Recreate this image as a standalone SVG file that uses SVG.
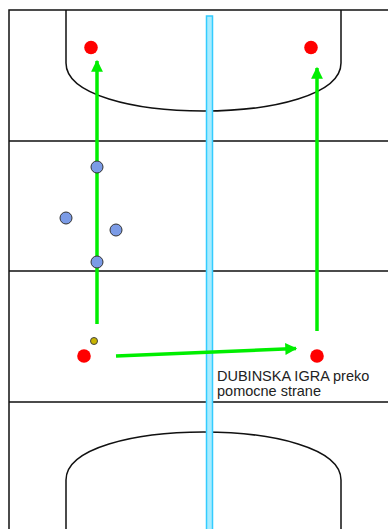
<svg xmlns="http://www.w3.org/2000/svg" width="388" height="529" viewBox="0 0 388 529">
<style>
.line{fill:none;stroke:#111;stroke-width:1.5}
.red{fill:#ff0000}
.blue{fill:#7b9be6;stroke:#333;stroke-width:1}
.arrow{fill:none;stroke:#00ee00;stroke-width:3.5}
.lbl{font-family:"Liberation Sans",Arial,sans-serif;font-size:14.5px;fill:#222}
</style>
<defs>
<marker id="ah" viewBox="0 0 10 10" refX="9" refY="5" markerWidth="3.6" markerHeight="3.4" orient="auto" markerUnits="strokeWidth">
<path d="M0,0 L10,5 L0,10 Z" fill="#00ee00"/>
</marker>
</defs>
<rect width="388" height="529" fill="#fff"/>
<g id="field">
<path class="line" d="M389,10 H9 V529"/>
<path class="line" d="M9,141 H389 M9,271 H389 M9,402 H389"/>
<path class="line" d="M66,10 V63 C66,127 341,127 341,63 V10"/>
<path class="line" d="M66,529 V480 C66,416 341,416 341,480 V529"/>
<rect x="206.5" y="16" width="6" height="514" fill="#a8ecff" stroke="#33ccff" stroke-width="1.5"/>
</g>
<g id="connectors">
<line class="arrow" x1="97" y1="324" x2="97" y2="61" marker-end="url(#ah)"/>
<line class="arrow" x1="317" y1="331" x2="317" y2="68" marker-end="url(#ah)"/>
<line class="arrow" x1="116" y1="356" x2="296" y2="348.5" marker-end="url(#ah)"/>
</g>
<g id="player-tl"><circle class="red" cx="91" cy="47.5" r="6.8"/></g>
<g id="player-tr"><circle class="red" cx="311" cy="47.5" r="6.8"/></g>
<g id="player-bl"><circle class="red" cx="84" cy="356" r="6.8"/></g>
<g id="player-br"><circle class="red" cx="317" cy="356" r="6.8"/></g>
<g id="ball"><circle cx="94" cy="341" r="3.5" fill="#c8b400" stroke="#444" stroke-width="1"/></g>
<g id="def1"><circle class="blue" cx="97" cy="167" r="6"/></g>
<g id="def2"><circle class="blue" cx="66" cy="218" r="6"/></g>
<g id="def3"><circle class="blue" cx="116" cy="230" r="6"/></g>
<g id="def4"><circle class="blue" cx="97" cy="262" r="6"/></g>
<g id="label">
<text class="lbl" x="217" y="381">DUBINSKA IGRA preko</text>
<text class="lbl" x="217" y="396">pomocne strane</text>
</g>
</svg>
